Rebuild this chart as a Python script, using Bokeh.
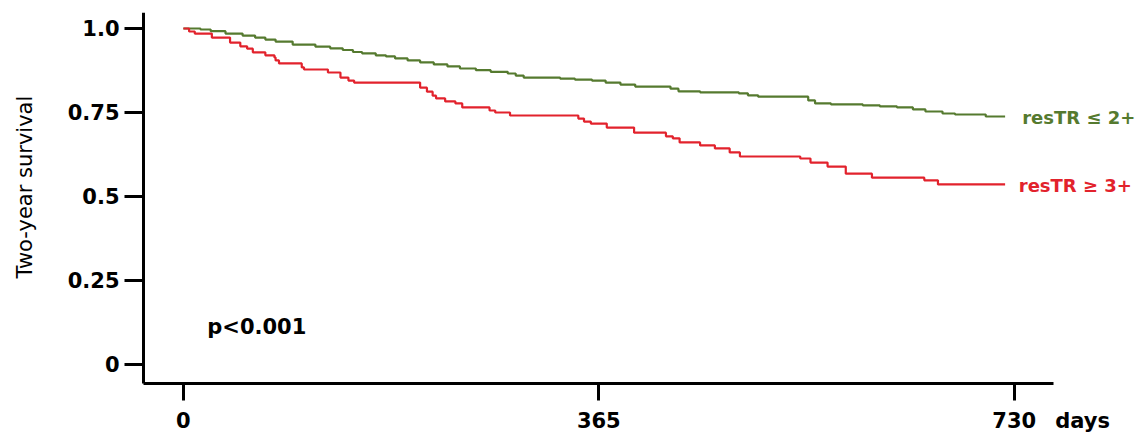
import math
from bokeh.plotting import figure
from bokeh.models import Range1d, Label, FixedTicker
from bokeh.embed import file_html
from bokeh.resources import INLINE

# ---- data ----
x_ticks = [0, 365, 730]
y_ticks = [0, 0.25, 0.5, 0.75, 1.0]
y_tick_labels = ["0", "0.25", "0.5", "0.75", "1.0"]

green_name = "resTR \u2264  2+"
red_name = "resTR \u2265 3+"
p_text = "p<0.001"
x_unit = "days"
y_title = "Two-year survival"

green_days = [0, 15, 24, 37, 52, 63, 72, 81, 96, 116,
              129, 140, 149, 157, 169, 178, 186, 197, 208, 220,
              232, 243, 257, 270, 285, 292, 299, 331, 344, 359,
              371, 384, 397, 428, 435, 454, 488, 496, 505, 549,
              555, 569, 597, 612, 627, 641, 652, 667, 678, 705,
              722]
green_surv = [1.0, 0.997, 0.992, 0.985, 0.979, 0.973, 0.967, 0.961, 0.952, 0.946,
              0.941, 0.936, 0.930, 0.926, 0.920, 0.917, 0.911, 0.905, 0.899, 0.893,
              0.887, 0.881, 0.876, 0.871, 0.866, 0.860, 0.854, 0.851, 0.848, 0.845,
              0.839, 0.833, 0.827, 0.821, 0.813, 0.810, 0.807, 0.801, 0.797, 0.786,
              0.777, 0.774, 0.771, 0.768, 0.765, 0.759, 0.753, 0.747, 0.744, 0.738,
              0.738]

red_days = [0, 5, 10, 25, 41, 50, 56, 61, 72, 80,
            81, 84, 104, 106, 127, 138, 145, 150, 208, 214,
            219, 222, 230, 239, 245, 269, 274, 287, 347, 352,
            358, 372, 396, 424, 430, 436, 454, 467, 480, 489,
            542, 551, 566, 582, 605, 651, 663, 722]
red_surv = [1.0, 0.991, 0.985, 0.973, 0.958, 0.947, 0.940, 0.929, 0.920, 0.914,
            0.905, 0.896, 0.884, 0.878, 0.869, 0.854, 0.845, 0.839, 0.824, 0.812,
            0.800, 0.792, 0.783, 0.777, 0.765, 0.756, 0.750, 0.741, 0.732, 0.723,
            0.717, 0.705, 0.690, 0.679, 0.673, 0.661, 0.652, 0.643, 0.631, 0.619,
            0.613, 0.601, 0.589, 0.568, 0.556, 0.548, 0.536, 0.536]

GREEN = "#557a2f"
RED = "#e2222c"
FONT = "DejaVu Sans"

X_AXIS_LO, X_AXIS_HI = -35, 764.5
Y_AXIS_LO, Y_AXIS_HI = -0.0565, 1.0476

p = figure(width=1143, height=433, output_backend="svg", toolbar_location=None,
           x_range=Range1d(-160.7, 843.6), y_range=Range1d(-0.2054, Y_AXIS_HI),
           min_border_left=0, min_border_right=0, min_border_top=12,
           min_border_bottom=0)
p.outline_line_color = None
p.grid.visible = False
p.background_fill_color = "white"

p.step(green_days, green_surv, mode="after", line_color=GREEN, line_width=2.2)
p.step(red_days, red_surv, mode="after", line_color=RED, line_width=2.2)

# axes
for ax in (p.xaxis[0], p.yaxis[0]):
    ax.axis_line_width = 3
    ax.axis_line_color = "black"
    ax.major_tick_line_width = 3
    ax.major_tick_line_color = "black"
    ax.major_tick_in = 0
    ax.minor_tick_line_color = None
    ax.major_label_text_font = FONT
    ax.major_label_text_font_style = "bold"
    ax.major_label_text_font_size = "21px"
    ax.major_label_text_color = "black"

p.xaxis[0].ticker = FixedTicker(ticks=x_ticks)
p.xaxis[0].fixed_location = Y_AXIS_LO
p.xaxis[0].bounds = (X_AXIS_LO, X_AXIS_HI)
p.xaxis[0].major_tick_out = 17
p.xaxis[0].major_label_standoff = 12

p.yaxis[0].ticker = FixedTicker(ticks=y_ticks)
p.yaxis[0].fixed_location = X_AXIS_LO
p.yaxis[0].bounds = (Y_AXIS_LO, Y_AXIS_HI)
p.yaxis[0].major_label_overrides = {t: l for t, l in zip(y_ticks, y_tick_labels)}
p.yaxis[0].major_tick_out = 19
p.yaxis[0].major_label_standoff = 5

# annotations
p.add_layout(Label(x=-138.8, y=0.528, text=y_title, angle=math.pi / 2, text_font=FONT,
                   text_font_size="21px", text_color="black", text_align="center",
                   text_baseline="middle"))
p.add_layout(Label(x=21, y=0.113, text=p_text, text_font=FONT, text_font_style="bold",
                   text_font_size="21px", text_color="black", text_baseline="middle"))
p.add_layout(Label(x=737, y=green_surv[-1] - 0.003, text=green_name, text_font=FONT,
                   text_font_style="bold", text_font_size="18px", text_color=GREEN,
                   text_baseline="middle"))
p.add_layout(Label(x=734, y=red_surv[-1] - 0.003, text=red_name, text_font=FONT,
                   text_font_style="bold", text_font_size="18px", text_color=RED,
                   text_baseline="middle"))
p.add_layout(Label(x=766, y=-0.167, text=x_unit, text_font=FONT, text_font_style="bold",
                   text_font_size="21px", text_color="black", text_baseline="middle"))

open("out.html", "w").write(file_html(p, INLINE))
